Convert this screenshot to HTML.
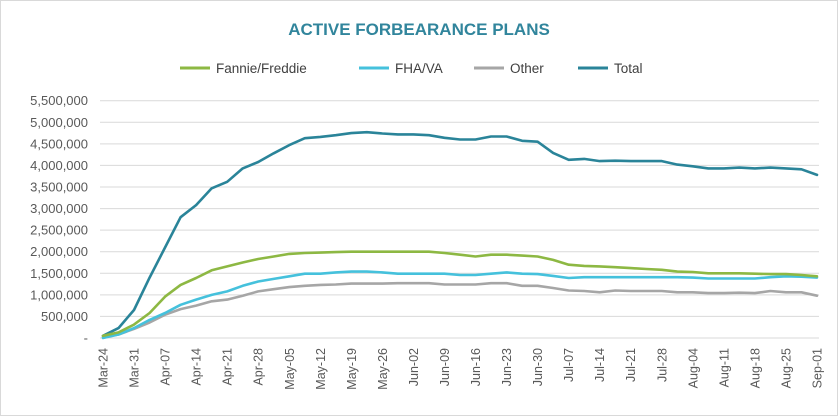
<!DOCTYPE html>
<html><head><meta charset="utf-8"><style>
html,body{margin:0;padding:0;background:#fff;}
svg{display:block;font-family:"Liberation Sans",sans-serif;}
</style></head><body>
<svg id="chart" width="838" height="416">
<rect x="0.5" y="0.5" width="837" height="415" fill="#fff" stroke="#d9d9d9"/>
<text x="419" y="35" text-anchor="middle" font-size="17" font-weight="bold" fill="#31859C">ACTIVE FORBEARANCE PLANS</text>
<g id="legend"></g>
<g id="grid"></g>
<g id="yaxis"></g>
<g id="xaxis"></g>
<g id="series"></g>
</svg>
<script>
const xLabels=["Mar-24","Mar-31","Apr-07","Apr-14","Apr-21","Apr-28","May-05","May-12","May-19","May-26","Jun-02","Jun-09","Jun-16","Jun-23","Jun-30","Jul-07","Jul-14","Jul-21","Jul-28","Aug-04","Aug-11","Aug-18","Aug-25","Sep-01"];
const yTicks=[0,500000,1000000,1500000,2000000,2500000,3000000,3500000,4000000,4500000,5000000,5500000];
// values in millions, sampled twice per week
const total=[0.05,0.23,0.65,1.4,2.1,2.8,3.08,3.47,3.62,3.93,4.08,4.28,4.47,4.63,4.66,4.70,4.75,4.77,4.74,4.72,4.72,4.70,4.64,4.60,4.60,4.67,4.67,4.57,4.55,4.29,4.13,4.15,4.10,4.11,4.10,4.10,4.10,4.02,3.98,3.93,3.93,3.95,3.93,3.95,3.93,3.91,3.78];
const fannie=[0.05,0.13,0.31,0.58,0.96,1.23,1.39,1.57,1.66,1.75,1.83,1.89,1.95,1.97,1.98,1.99,2.0,2.0,2.0,2.0,2.0,2.0,1.97,1.93,1.89,1.93,1.93,1.91,1.89,1.81,1.70,1.67,1.66,1.64,1.62,1.60,1.58,1.54,1.53,1.50,1.50,1.50,1.49,1.48,1.48,1.46,1.43];
const fha=[0.0,0.08,0.23,0.42,0.58,0.77,0.89,1.0,1.08,1.21,1.31,1.37,1.43,1.49,1.49,1.52,1.54,1.54,1.52,1.49,1.49,1.49,1.49,1.46,1.46,1.49,1.52,1.49,1.48,1.44,1.39,1.41,1.41,1.41,1.41,1.41,1.41,1.41,1.40,1.38,1.38,1.38,1.38,1.41,1.43,1.42,1.40];
const other=[0.02,0.08,0.21,0.36,0.54,0.67,0.75,0.85,0.89,0.98,1.08,1.13,1.18,1.21,1.23,1.24,1.26,1.26,1.26,1.27,1.27,1.27,1.24,1.24,1.24,1.27,1.27,1.21,1.21,1.16,1.10,1.09,1.06,1.10,1.09,1.09,1.09,1.06,1.06,1.04,1.04,1.05,1.04,1.09,1.06,1.06,0.98];
const NS="http://www.w3.org/2000/svg";
const X0=103,X1=817,Y0=338,Ytop=100.7,YMAX=5500000,NX=xLabels.length-1;
function xs(t){return X0+(X1-X0)*t/NX;}
function ys(v){return Y0-(Y0-Ytop)*v/YMAX;}
function mk(tag,attrs,parent){const e=document.createElementNS(NS,tag);for(const k in attrs)e.setAttribute(k,attrs[k]);parent.appendChild(e);return e;}
const grid=document.getElementById('grid'),ya=document.getElementById('yaxis'),xa=document.getElementById('xaxis'),sg=document.getElementById('series'),lg=document.getElementById('legend');
yTicks.forEach(v=>{
  const l=mk('line',{x1:100,x2:819,y1:ys(v),y2:ys(v),stroke:'#d9d9d9','stroke-width':1},grid);
  
  
  const t=mk('text',{x:88,y:ys(v)+4.5,'text-anchor':'end','font-size':13,fill:'#595959'},ya);
  t.textContent=v===0?'-':v.toLocaleString('en-US');
  
  
});
xLabels.forEach((s,i)=>{
  const x=xs(i)+4.5,y=348;
  const t=mk('text',{x:x,y:y,'text-anchor':'end','font-size':12.5,fill:'#595959',transform:`rotate(-90 ${x} ${y})`},xa);
  t.textContent=s;
  
  
});
const series=[["Fannie/Freddie",fannie,"#8DB843","series-fannie-freddie"],["FHA/VA",fha,"#45C1DC","series-fha-va"],["Other",other,"#A6A6A6","series-other"],["Total",total,"#2A8499","series-total"]];
series.slice().reverse().forEach(([n,d,c,nm])=>{
  const step=NX/(d.length-1);
  const pts=d.map((v,i)=>xs(i*step).toFixed(1)+','+ys(v*1e6).toFixed(1)).join(' ');
  const p=mk('polyline',{points:pts,fill:'none',stroke:c,'stroke-width':2.6,'stroke-linejoin':'round','stroke-linecap':'round'},sg);
  
  
});
const lx=[180,359,474,578];
series.forEach(([n,d,c,nm],i)=>{
  const g=mk('g',{},lg);
  
  
  mk('line',{x1:lx[i],x2:lx[i]+30,y1:68,y2:68,stroke:c,'stroke-width':3},g);
  const t=mk('text',{x:lx[i]+36,y:73,'font-size':13.5,fill:'#404040'},g);
  t.textContent=n;
});
</script>
</body></html>
